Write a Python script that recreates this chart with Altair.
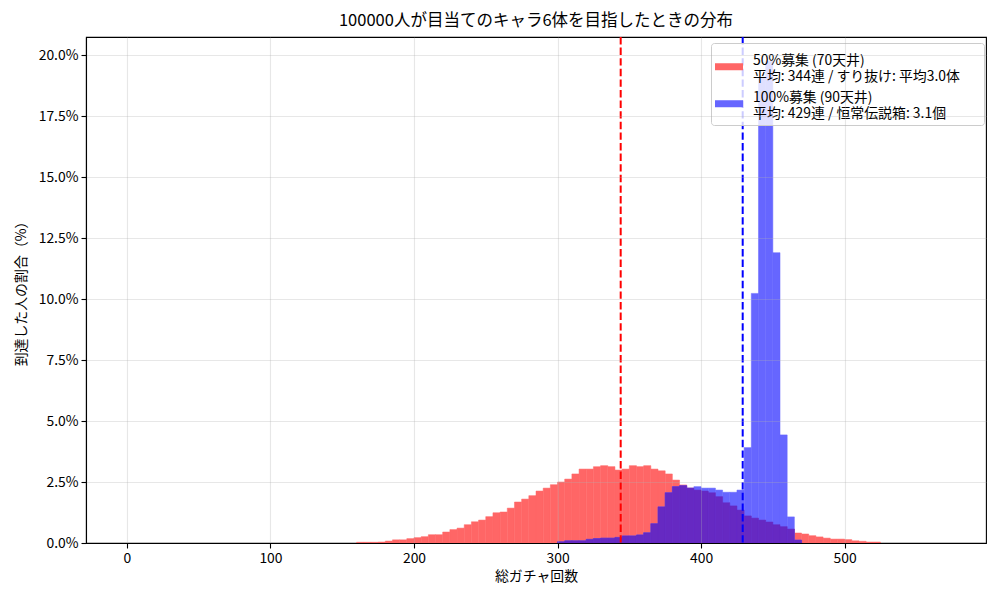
import altair as alt
import pandas as pd
import numpy as np

BIN_WIDTH = 5

red_label = "50%募集 (70天井)|平均: 344連 / すり抜け: 平均3.0体\u2800\u2800"
blue_label = "100%募集 (90天井)|平均: 429連 / 恒常伝説箱: 3.1個"

red_first_bin = 160
red_pct = [0.03, 0.03, 0.03, 0.04, 0.08, 0.13, 0.13, 0.18, 0.22, 0.26, 0.34, 0.34,
           0.45, 0.55, 0.61, 0.75, 0.87, 0.94, 1.08, 1.24, 1.27, 1.43, 1.68, 1.80,
           1.94, 2.13, 2.25, 2.39, 2.50, 2.62, 2.83, 3.03, 3.03, 3.13, 3.17, 3.13,
           2.99, 3.03, 3.17, 3.13, 3.17, 3.03, 2.96, 2.83, 2.58, 2.38, 2.25, 2.17,
           2.13, 2.06, 1.90, 1.65, 1.52, 1.35, 1.11, 1.02, 0.94, 0.86, 0.75, 0.67,
           0.57, 0.41, 0.37, 0.30, 0.25, 0.20, 0.16, 0.16, 0.14, 0.09, 0.07, 0.04, 0.04]

blue_first_bin = 300
blue_pct = [0.05, 0.09, 0.09, 0.09, 0.15, 0.18, 0.20, 0.20, 0.23, 0.29, 0.29, 0.33,
            0.42, 0.79, 1.48, 2.06, 2.31, 2.35, 2.25, 2.31, 2.25, 2.25, 2.17, 2.08,
            2.08, 2.17, 3.91, 10.23, 19.10, 19.75, 11.90, 4.43, 1.07, 0.12]

mean_values = [344, 429]
mean_colors = ["red", "blue"]

x_ticks = [0, 100, 200, 300, 400, 500]
y_ticks = [0, 2.5, 5, 7.5, 10, 12.5, 15, 17.5, 20]

FONT = "Noto Sans CJK JP"
RED = "#ff6666"
BLUE = "#6666ff"
PURPLE = "#6629c2"


def make_df(first, vals, label):
    starts = [first + BIN_WIDTH * i for i in range(len(vals))]
    return pd.DataFrame({"start": starts, "end": [s + BIN_WIDTH for s in starts],
                         "pct": vals, "series": label})


red_df = make_df(red_first_bin, red_pct, red_label)
blue_df = make_df(blue_first_bin, blue_pct, blue_label)
ov = red_df.merge(blue_df, on=["start", "end"], suffixes=("_r", "_b"))
ov_df = pd.DataFrame({"start": ov["start"], "end": ov["end"],
                      "pct": np.minimum(ov["pct_r"], ov["pct_b"])})
mean_df = pd.DataFrame({"mean": mean_values, "c": mean_colors})

xscale = alt.Scale(domain=[-28.5, 598.5], nice=False, zero=False)
yscale = alt.Scale(domain=[0, 20.74], nice=False, zero=False)
xaxis = alt.Axis(values=x_ticks, format="d", title="総ガチャ回数", zindex=1)
yaxis = alt.Axis(values=y_ticks, labelExpr="format(datum.value, '.1f') + '%'",
                 title="到達した人の割合（%）", zindex=1)
cscale = alt.Scale(domain=[red_label, blue_label], range=[RED, BLUE])
legend = alt.Legend(title=None, orient="none", legendX=625, legendY=6,
                    labelExpr="split(datum.label, '|')",
                    symbolType="M-1,0.16L1,0.16L1,0.66L-1,0.66Z",
                    symbolSize=784, symbolStrokeWidth=0, labelFontSize=13.9,
                    labelLimit=400, labelOffset=10, rowPadding=0, padding=4,
                    fillColor="rgba(255,255,255,0.8)", strokeColor="#cccccc",
                    cornerRadius=3)

red = alt.Chart(red_df).mark_bar(stroke=RED, strokeWidth=0.5).encode(
    x=alt.X("start:Q", scale=xscale, axis=xaxis), x2="end:Q",
    y=alt.Y("pct:Q", scale=yscale, axis=yaxis), y2=alt.datum(0),
    color=alt.Color("series:N", scale=cscale, legend=legend))
blue = alt.Chart(blue_df).mark_bar(stroke=BLUE, strokeWidth=0.5).encode(
    x=alt.X("start:Q", scale=xscale), x2="end:Q",
    y=alt.Y("pct:Q", scale=yscale), y2=alt.datum(0),
    color=alt.Color("series:N", scale=cscale, legend=legend))
overlap = alt.Chart(ov_df).mark_bar(color=PURPLE, stroke=PURPLE, strokeWidth=0.5).encode(
    x=alt.X("start:Q", scale=xscale), x2="end:Q",
    y=alt.Y("pct:Q", scale=yscale), y2=alt.datum(0))
rules = alt.Chart(mean_df).mark_rule(strokeDash=[7.4, 3.2], strokeWidth=2).encode(
    x=alt.X("mean:Q", scale=xscale),
    color=alt.Color("c:N", scale=None))

chart = alt.layer(red, blue, overlap, rules).properties(
    width=900, height=506,
    autosize=alt.AutoSizeParams(type="none"),
    padding={"left": 78, "top": 29, "right": 6, "bottom": 49},
    title=alt.TitleParams("100000人が目当てのキャラ6体を目指したときの分布",
                          fontSize=16.5, font=FONT, fontWeight="normal",
                          offset=7, color="black"),
).configure_view(stroke="black", strokeWidth=1.1).configure_axis(
    labelFont=FONT, titleFont=FONT, labelFontSize=13.9, titleFontSize=13.9,
    labelColor="black", titleColor="black", titleFontWeight="normal",
    domainColor="black", domainWidth=1.1, tickColor="black", tickSize=5,
    tickWidth=1.1, gridColor="#b0b0b0", gridOpacity=0.3, gridWidth=1.1,
    labelPadding=3,
).configure_axisX(titlePadding=5).configure_axisY(titlePadding=10).configure_legend(
    labelFont=FONT, labelColor="black")

chart.save("out.html", embed_options={"renderer": "svg", "actions": False})
